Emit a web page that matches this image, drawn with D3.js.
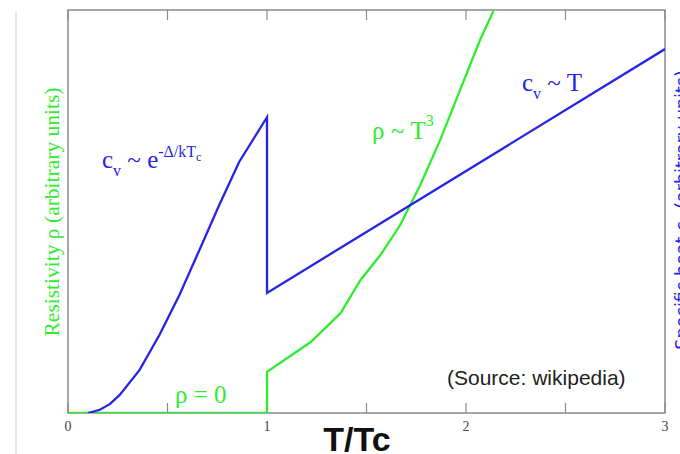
<!DOCTYPE html>
<html>
<head>
<meta charset="utf-8">
<script src="https://cdn.jsdelivr.net/npm/d3@7"></script>
<style>
html,body{margin:0;padding:0;background:#fff;overflow:hidden;}
svg{display:block;}
</style>
</head>
<body>
<svg id="chart" width="680" height="454"></svg>
<script>
// ---- data (T/Tc, arbitrary units 0..100) ----
const xTicks = [0, 1, 2, 3];
const xMinorTicks = [0.5, 1.5, 2.5];
const xTickLabels = ["0", "1", "2", "3"];

// specific heat c_v
const cvT = [0.10, 0.16, 0.21, 0.26, 0.36, 0.46, 0.56, 0.66, 0.76, 0.86, 1.00, 1.00, 3.00];
const cvVal = [0, 0.8, 2.2, 4.5, 10.7, 19.4, 29.3, 40.4, 51.6, 62.3, 73.4, 29.8, 90.3];

// resistivity rho
const rhoT = [0, 1.00, 1.00, 1.22, 1.37, 1.47, 1.57, 1.67, 1.77, 1.87, 1.97, 2.07, 2.14];
const rhoVal = [0, 0, 10.2, 17.6, 24.8, 33.0, 39.2, 46.7, 56.6, 67.7, 80.1, 92.5, 100];

const green = "#2fec2f";
const blue = "#2424e6";
const axisGray = "#8a8a8a";

const svg = d3.select("#chart");
const L = 68, R = 665, T = 10, B = 413;
const x = d3.scaleLinear().domain([0, 3]).range([L, R]);
const y = d3.scaleLinear().domain([0, 100]).range([B, T]);

// light page border line on left
svg.append("line").attr("x1", 16).attr("x2", 16).attr("y1", 12).attr("y2", 454)
  .attr("stroke", "#dce8f6").attr("stroke-width", 2);

// clip
svg.append("clipPath").attr("id", "plotclip").append("rect")
  .attr("x", L).attr("y", T).attr("width", R - L).attr("height", B - T);

// frame
svg.append("rect").attr("x", L).attr("y", T).attr("width", R - L).attr("height", B - T)
  .attr("fill", "none").attr("stroke", axisGray).attr("stroke-width", 1.5);

// ticks (bottom and top, inward)
const allTicks = xTicks.concat(xMinorTicks);
svg.selectAll("line.tb").data(allTicks).enter().append("line")
  .attr("x1", d => x(d)).attr("x2", d => x(d))
  .attr("y1", B).attr("y2", B - 10)
  .attr("stroke", axisGray).attr("stroke-width", 1.2);
svg.selectAll("line.tt").data(allTicks).enter().append("line")
  .attr("x1", d => x(d)).attr("x2", d => x(d))
  .attr("y1", T).attr("y2", T + 10)
  .attr("stroke", axisGray).attr("stroke-width", 1.2);

// tick labels
svg.selectAll("text.tl").data(xTicks).enter().append("text")
  .attr("x", d => x(d)).attr("y", 431)
  .attr("text-anchor", "middle")
  .attr("font-family", "Liberation Serif, serif").attr("font-size", 14)
  .attr("fill", "#444")
  .text((d, i) => xTickLabels[i]);

const line = d3.line().x(d => x(d[0])).y(d => y(d[1]));
const g = svg.append("g").attr("clip-path", "url(#plotclip)");

g.append("path").datum(rhoT.map((t, i) => [t, rhoVal[i]]))
  .attr("d", line).attr("fill", "none").attr("stroke", green).attr("stroke-width", 2.3)
  .attr("stroke-linejoin", "miter");
g.append("path").datum(cvT.map((t, i) => [t, cvVal[i]]))
  .attr("d", line).attr("fill", "none").attr("stroke", blue).attr("stroke-width", 2.3)
  .attr("stroke-linejoin", "miter");

// annotations
function rich(xp, yp, color, size, parts) {
  const t = svg.append("text").attr("x", xp).attr("y", yp)
    .attr("font-family", "Liberation Serif, Times New Roman, serif")
    .attr("font-size", size).attr("fill", color);
  parts.forEach(p => {
    const ts = t.append("tspan").text(p.t);
    if (p.dy) ts.attr("dy", p.dy);
    if (p.s) ts.attr("font-size", p.s);
    if (p.dx) ts.attr("dx", p.dx);
  });
  return t;
}

rich(102, 168, blue, 25, [
  {t: "c"}, {t: "v", s: 16, dy: 8}, {t: " ~ e", dy: -8},
  {t: "-Δ/kT", s: 16, dy: -11}, {t: "c", s: 12, dy: 4}
]);

rich(522, 91, blue, 25, [
  {t: "c"}, {t: "v", s: 16, dy: 8}, {t: " ~ T", dy: -8}
]);

rich(372, 139, green, 25, [
  {t: "ρ ~ T"}, {t: "3", s: 16, dy: -13}
]);

rich(175, 403, green, 25, [{t: "ρ = 0"}]);

svg.append("text").attr("x", 447).attr("y", 385)
  .attr("font-family", "Liberation Sans, Arial, sans-serif").attr("font-size", 21)
  .attr("fill", "#222").text("(Source: wikipedia)");

svg.append("text").attr("x", 357).attr("y", 451).attr("text-anchor", "middle")
  .attr("font-family", "Liberation Sans, Arial, sans-serif").attr("font-size", 34)
  .attr("font-weight", "bold").attr("fill", "#111").text("T/Tc");

// y labels
svg.append("text").attr("transform", "translate(59,212) rotate(-90)")
  .attr("text-anchor", "middle")
  .attr("font-family", "Liberation Serif, Times New Roman, serif").attr("font-size", 21.5)
  .attr("fill", green).text("Resistivity ρ (arbitrary units)");

const rl = svg.append("text").attr("transform", "translate(688,210) rotate(-90)")
  .attr("text-anchor", "middle")
  .attr("font-family", "DejaVu Sans, sans-serif").attr("font-size", 17.5)
  .attr("fill", blue);
rl.append("tspan").text("Specific heat c");
rl.append("tspan").attr("font-size", 12).attr("dy", 5).text("v");
rl.append("tspan").attr("dy", -5).text(" (arbitrary units)");
</script>
</body>
</html>
